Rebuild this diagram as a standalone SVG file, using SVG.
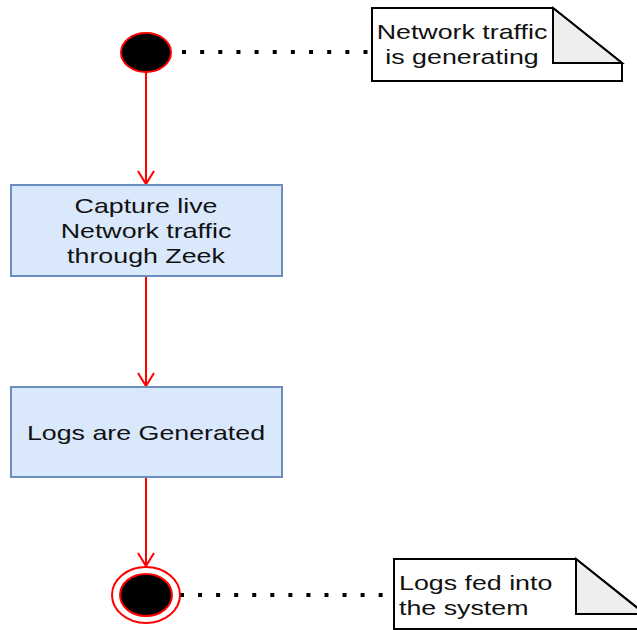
<svg xmlns="http://www.w3.org/2000/svg" width="637" height="630" viewBox="0 0 637 630">
  <style>
    .lbl { font-family: "Liberation Sans", Arial, sans-serif; font-size: 20px; fill: #111; }
    .mid { text-anchor: middle; }
    .act { fill: #dae8fc; stroke: #6c8ebf; stroke-width: 2; }
    .note { fill: #ffffff; stroke: #000; stroke-width: 2; stroke-linejoin: miter; }
    .fold { fill: #eeeeee; stroke: #000; stroke-width: 2; stroke-linejoin: miter; }
    .flow { fill: none; stroke: #ff0000; stroke-width: 2; }
    .dots { fill: none; stroke: #000; stroke-width: 4; }
  </style>
  <defs>
    <marker id="open-arrow" markerUnits="userSpaceOnUse" viewBox="-16 -10 18 20" refX="0" refY="0" markerWidth="18" markerHeight="20" orient="auto" overflow="visible">
      <path d="M-13,-8 L0,0 L-13,8" fill="none" stroke="#ff0000" stroke-width="2"/>
    </marker>
  </defs>
  <rect width="637" height="630" fill="#ffffff"/>

  <!-- connectors -->
  <g id="connectors">
    <line class="flow" x1="146" y1="72" x2="146" y2="184" marker-end="url(#open-arrow)"/>
    <line class="flow" x1="146" y1="276" x2="146" y2="386" marker-end="url(#open-arrow)"/>
    <line class="flow" x1="146" y1="477" x2="146" y2="566" marker-end="url(#open-arrow)"/>
    <line class="dots" x1="182" y1="52" x2="368" y2="52" stroke-dasharray="4 14.15"/>
    <line class="dots" x1="180" y1="595" x2="386" y2="595" stroke-dasharray="4 14.06"/>
  </g>

  <!-- initial state -->
  <g id="start">
    <ellipse cx="146" cy="52.5" rx="25" ry="19.5" fill="#000" stroke="#ff0000" stroke-width="2"/>
  </g>

  <!-- note: traffic -->
  <g id="note-traffic">
    <path class="note" d="M372,8 L553,8 L622,63 L622,81 L372,81 Z"/>
    <path class="fold" d="M553,8 L622,63 L553,63 Z"/>
    <g transform="translate(462,0) scale(1.34,1)">
      <text class="lbl mid" x="0" y="39">Network traffic</text>
      <text class="lbl mid" x="0" y="64">is generating</text>
    </g>
  </g>

  <!-- action: capture -->
  <g id="capture">
    <rect class="act" x="11" y="185" width="271" height="91"/>
    <g transform="translate(146,0) scale(1.34,1)">
      <text class="lbl mid" x="0" y="213">Capture live</text>
      <text class="lbl mid" x="0" y="238">Network traffic</text>
      <text class="lbl mid" x="0" y="263">through Zeek</text>
    </g>
  </g>

  <!-- action: logs -->
  <g id="logs">
    <rect class="act" x="11" y="387" width="271" height="90"/>
    <g transform="translate(146,0) scale(1.34,1)">
      <text class="lbl mid" x="0" y="440">Logs are Generated</text>
    </g>
  </g>

  <!-- final state -->
  <g id="end">
    <ellipse cx="146" cy="595" rx="34" ry="28" fill="#ffffff" stroke="#ff0000" stroke-width="2"/>
    <ellipse cx="146" cy="595" rx="26" ry="21" fill="#000" stroke="#ff0000" stroke-width="2"/>
  </g>

  <!-- note: system -->
  <g id="note-system">
    <path class="note" d="M394,559 L576,559 L645,614 L645,629 L394,629 Z"/>
    <path class="fold" d="M576,559 L645,614 L576,614 Z"/>
    <g transform="translate(399,0) scale(1.34,1)">
      <text class="lbl" x="0" y="590">Logs fed into</text>
      <text class="lbl" x="0" y="615">the system</text>
    </g>
  </g>
</svg>
